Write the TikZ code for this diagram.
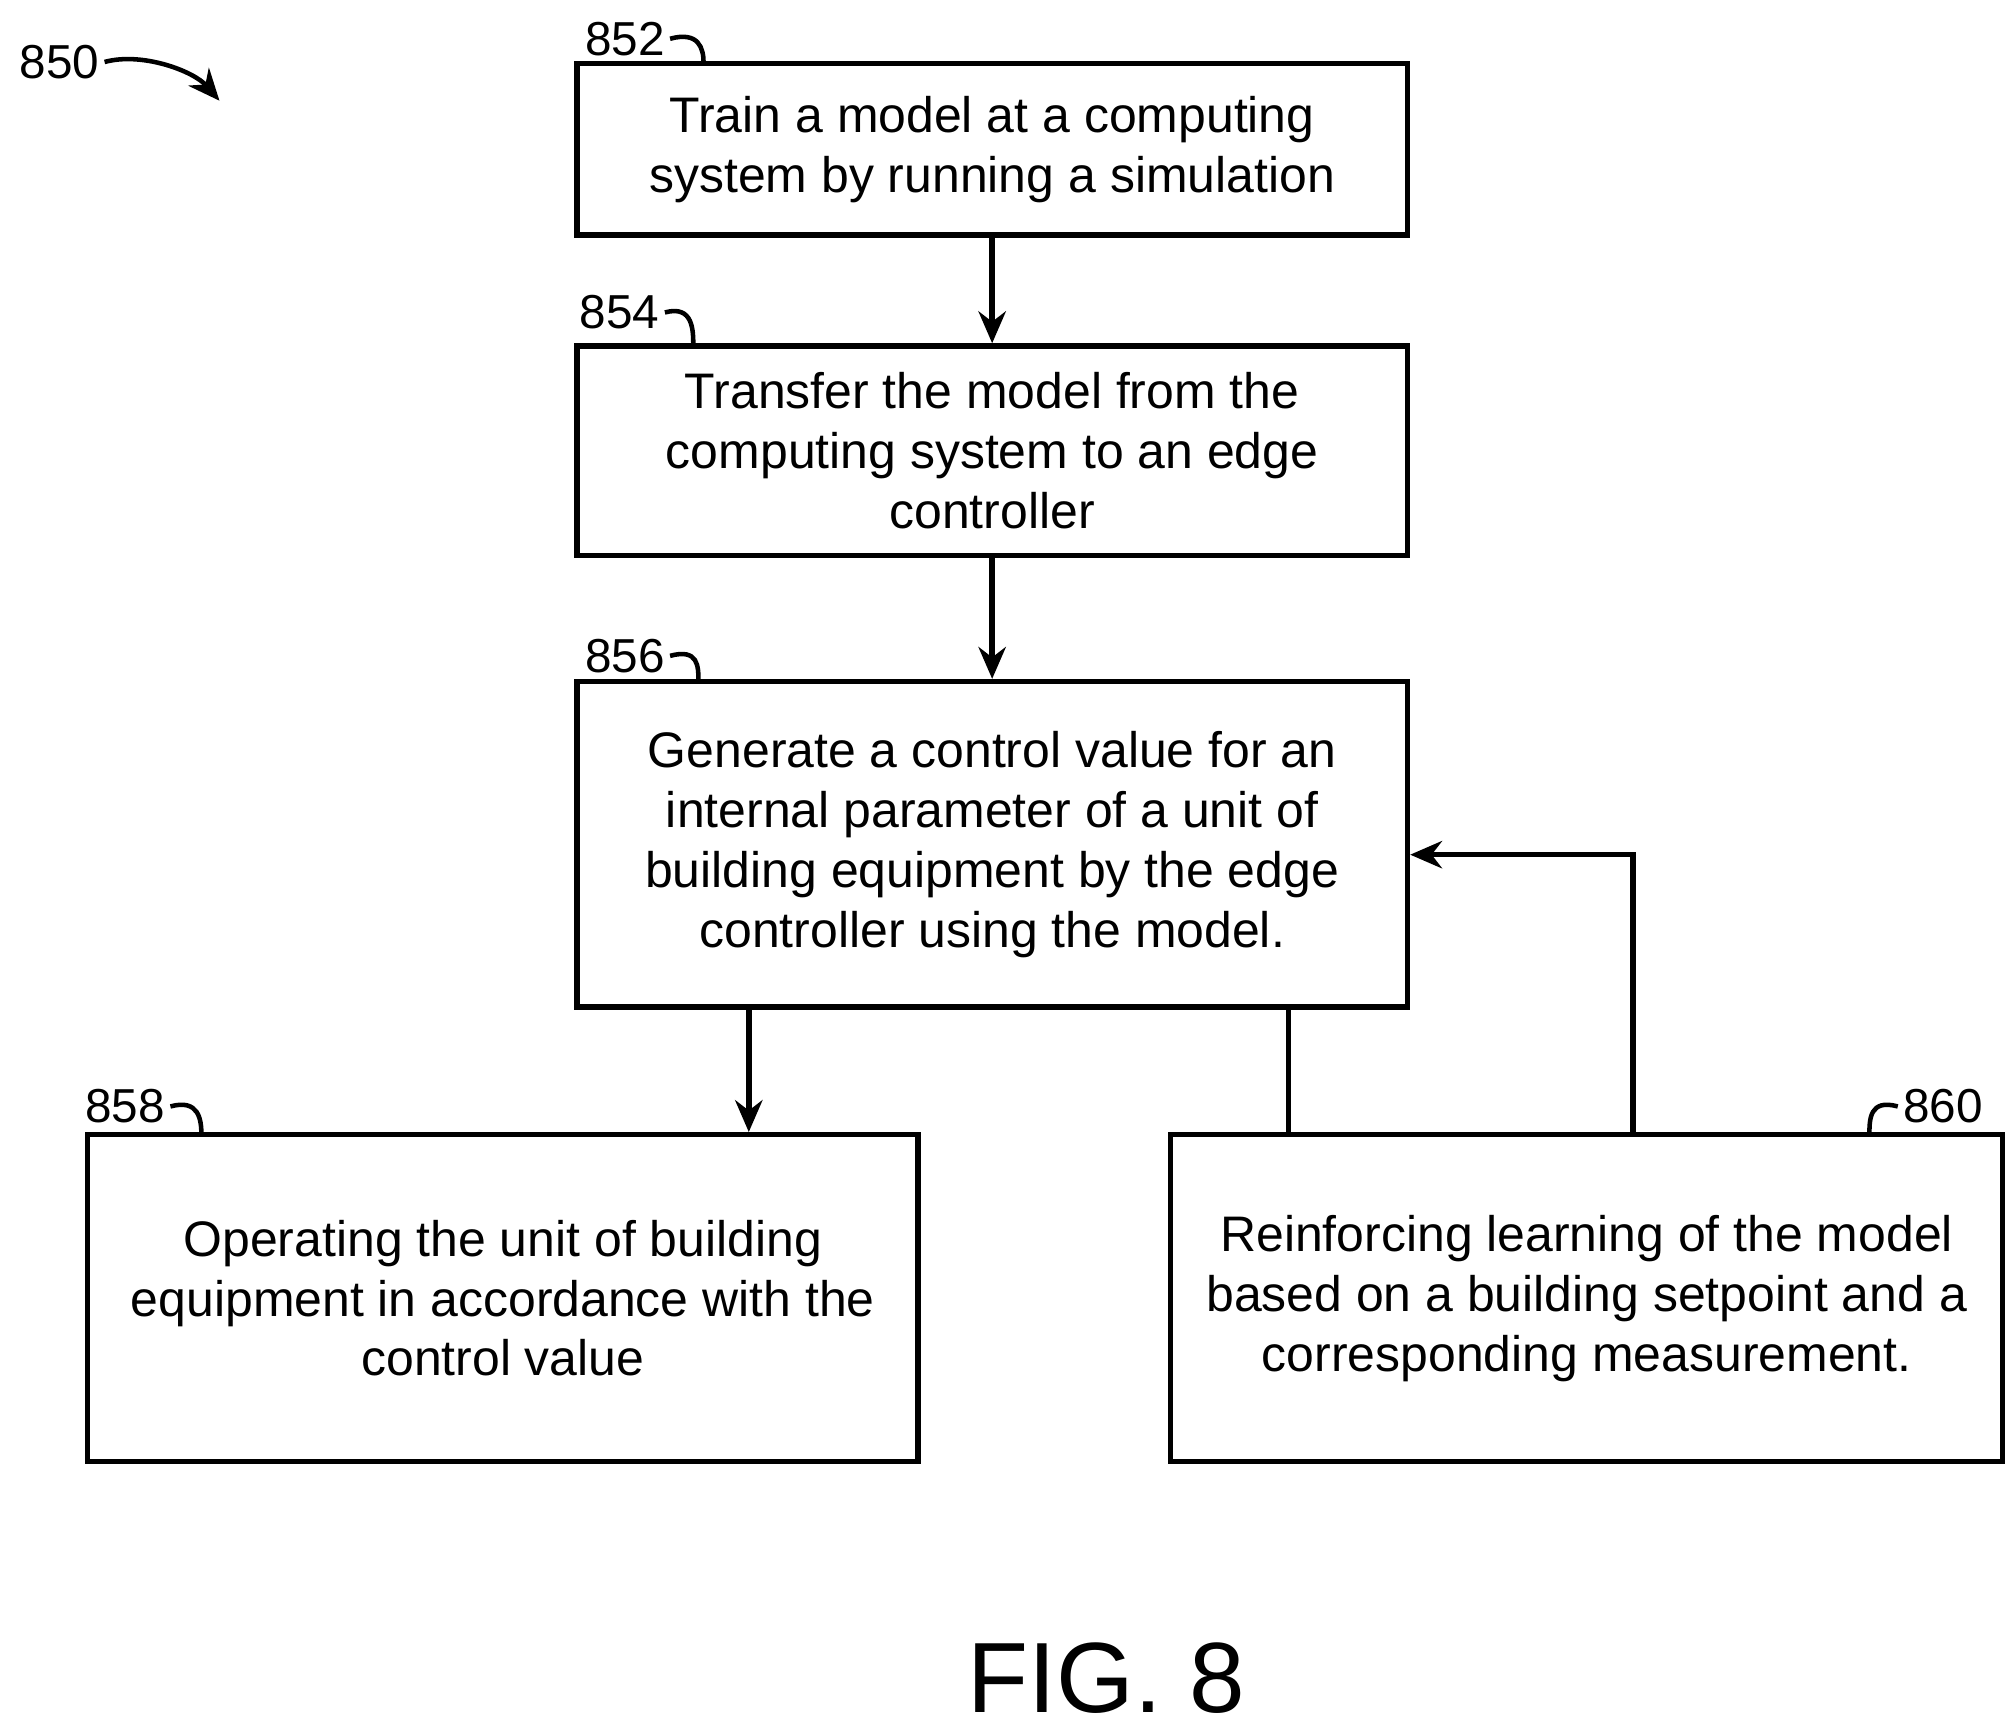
\documentclass[tikz,border=0pt]{standalone}
\usepackage{fontspec}
\setmainfont{Liberation Sans}
\usetikzlibrary{arrows.meta}
\begin{document}
\begin{tikzpicture}[x=0.01cm,y=-0.01cm,
  box/.style={draw,line width=1.2pt,align=center,inner sep=0pt,minimum width=6.43cm,
    font=\fontsize{11}{13.2}\selectfont},
  ref/.style={font=\fontsize{10.5}{12}\selectfont,inner sep=1pt},
  flow/.style={-{Stealth[length=7pt,width=6pt]},line width=1.2pt}]
\useasboundingbox (0,0) rectangle (1560,1338);
% steps
\node[box,minimum height=1.33cm] (s852) at (768.5,115.5) {Train a model at a computing\\system by running a simulation};
\node[box,minimum height=1.62cm] (s854) at (768.5,349) {Transfer the model from the\\computing system to an edge\\controller};
\node[box,minimum height=2.52cm] (s856) at (768.5,654) {Generate a control value for an\\internal parameter of a unit of\\building equipment by the edge\\controller using the model.};
\node[box,minimum height=2.53cm] (s858) at (389.5,1005.5) {Operating the unit of building\\equipment in accordance with the\\control value};
\node[box,minimum width=6.44cm,minimum height=2.53cm] (s860) at (1229,1005.5) {Reinforcing learning of the model\\based on a building setpoint and a\\corresponding measurement.};
% connectors
\draw[flow] (s852) -- (s854);
\draw[flow] (s854) -- (s856);
\draw[flow] (s856.south -| 580,0) -- (s858.north -| 580,0);
\draw[line width=1.2pt] (s856.south -| 998,0) -- (s860.north -| 998,0);
\coordinate (bend) at (1265,662);
\draw[flow] (s860.north -| bend) -- (bend) -- (bend -| s856.east);
% reference numerals
\node[ref] (n852) at (484,30) {852};
\draw[line width=1pt] (n852.east) .. controls +(22,-6) and +(0,-12) .. (545,49);
\node[ref] (n854) at (480,242) {854};
\draw[line width=1pt] (n854.east) .. controls +(22,-6) and +(0,-12) .. (537,268);
\node[ref] (n856) at (484,508) {856};
\draw[line width=1pt] (n856.east) .. controls +(22,-6) and +(0,-12) .. (541,528);
\node[ref] (n858) at (97,857) {858};
\draw[line width=1pt] (n858.east) .. controls +(22,-6) and +(0,-12) .. (156,879);
\node[ref] (n860) at (1505,857) {860};
\draw[line width=1pt] (n860.west) .. controls +(-22,-6) and +(0,-12) .. (1448,879);
\node[ref] (n850) at (46,48) {850};
\draw[-{Stealth[length=7pt,width=6pt]},line width=1pt] (n850.east) .. controls (110,40) and (150,55) .. (170,78);
\node[font=\fontsize{22}{26}\selectfont] (fig) at (857,1300) {FIG. 8};
\end{tikzpicture}
\end{document}
